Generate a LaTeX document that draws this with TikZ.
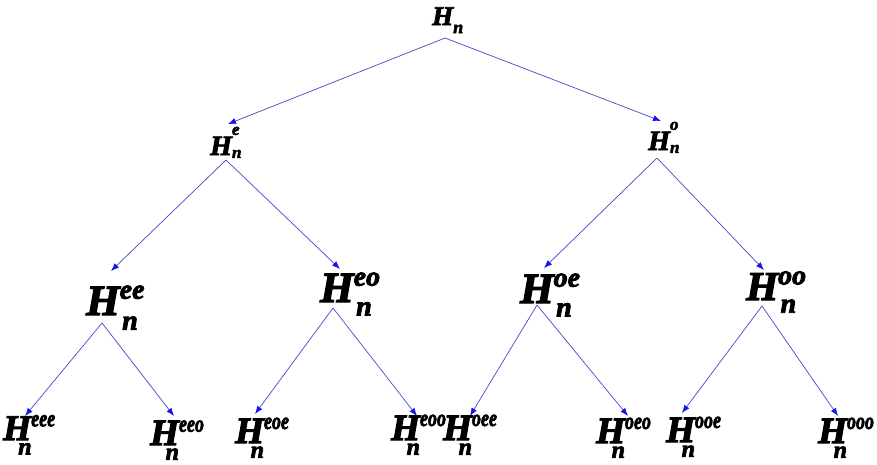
\documentclass[tikz,border=0pt]{standalone}
\usepackage{fontspec}
\usepackage{graphicx}
\setmainfont{Liberation Serif}[BoldItalicFeatures={FakeBold=3}]
\usetikzlibrary{arrows.meta}
\definecolor{edgeblue}{RGB}{72,72,200}
\definecolor{tipblue}{RGB}{20,20,235}
\newcommand{\supx}{1}
% #1 H size, #2 script size, #3 superscript, #4 raise (em of H), #5 lower (em of H), #6 kern of n (em of H)
\newcommand{\HLab}[6]{%
  \fontsize{#1pt}{#1pt}\selectfont H%
  \fontsize{#2pt}{#2pt}\selectfont
  \rlap{\raisebox{#4\dimexpr#1pt\relax}{\scalebox{\supx}[1]{#3}}}%
  \kern#6\dimexpr#1pt\relax\raisebox{-#5\dimexpr#1pt\relax}{n}}
\tikzset{
  lab/.style={inner sep=0pt, anchor=base west, font=\bfseries\itshape},
  edge/.style={draw=edgeblue, line width=0.7pt,
    -{Latex[length=8pt,width=6pt,fill=tipblue,color=tipblue]}}
}
\begin{document}
\begin{tikzpicture}[x=1pt,y=-1pt]
\useasboundingbox[fill=white] (0,0) rectangle (877,464);
% labels
\node[lab] (n)   at (432,25)  {\HLab{27}{18}{}{0}{0.3}{0}};
\node[lab] (e)   at (210,155) {\HLab{28}{17}{e}{0.72}{0.1}{0}};
\node[lab] (o)   at (648,150) {\HLab{28}{17}{o}{0.72}{0.1}{0}};
\node[lab] (ee)  at (86,315)  {\HLab{43}{28}{ee}{0.38}{0.34}{0.06}};
\node[lab] (eo)  at (320,302) {\HLab{43}{28}{eo}{0.38}{0.31}{0.06}};
\node[lab] (oe)  at (520,303) {\HLab{43}{28}{oe}{0.38}{0.31}{0.06}};
\node[lab] (oo)  at (746,300) {\HLab{41}{28}{oo}{0.38}{0.31}{0.06}};
\node[lab] (eee) at (3,440)   {\def\supx{0.75}\HLab{36}{24}{eee}{0.38}{0.40}{-0.36}};
\node[lab] (eeo) at (150,445) {\def\supx{0.75}\HLab{37}{24}{eeo}{0.36}{0.40}{-0.36}};
\node[lab] (eoe) at (235,443) {\def\supx{0.75}\HLab{37}{24}{eoe}{0.38}{0.40}{-0.36}};
\node[lab] (eoo) at (391,440) {\def\supx{0.75}\HLab{37}{24}{eoo}{0.38}{0.40}{-0.36}};
\node[lab] (oee) at (443,440) {\def\supx{0.75}\HLab{37}{24}{oee}{0.38}{0.40}{-0.36}};
\node[lab] (oeo) at (596,443) {\def\supx{0.75}\HLab{37}{24}{oeo}{0.38}{0.40}{-0.36}};
\node[lab] (ooe) at (666,442) {\def\supx{0.75}\HLab{37}{24}{ooe}{0.38}{0.40}{-0.36}};
\node[lab] (ooo) at (818,443) {\def\supx{0.75}\HLab{37}{24}{ooo}{0.38}{0.40}{-0.36}};
% connector ends
\coordinate (n-s)  at (445,38);
\coordinate (e-s)  at (226,160);
\coordinate (o-s)  at (657,158);
\coordinate (ee-s) at (102,323);
\coordinate (eo-s) at (333,308);
\coordinate (oe-s) at (537,305);
\coordinate (oo-s) at (762,306);
\coordinate (e-t)  at (228,124);
\coordinate (o-t)  at (661,121);
\coordinate (ee-t) at (111,271);
\coordinate (eo-t) at (340,269);
\coordinate (oe-t) at (544,268);
\coordinate (oo-t) at (764,270);
\coordinate (eee-t) at (25,416);
\coordinate (eeo-t) at (174,416);
\coordinate (eoe-t) at (255,414);
\coordinate (eoo-t) at (417,416);
\coordinate (oee-t) at (470,416);
\coordinate (oeo-t) at (628,416);
\coordinate (ooe-t) at (682,413);
\coordinate (ooo-t) at (838,416);
% connectors
\draw[edge] (n-s) -- (e-t);
\draw[edge] (n-s) -- (o-t);
\draw[edge] (e-s) -- (ee-t);
\draw[edge] (e-s) -- (eo-t);
\draw[edge] (o-s) -- (oe-t);
\draw[edge] (o-s) -- (oo-t);
\draw[edge] (ee-s) -- (eee-t);
\draw[edge] (ee-s) -- (eeo-t);
\draw[edge] (eo-s) -- (eoe-t);
\draw[edge] (eo-s) -- (eoo-t);
\draw[edge] (oe-s) -- (oee-t);
\draw[edge] (oe-s) -- (oeo-t);
\draw[edge] (oo-s) -- (ooe-t);
\draw[edge] (oo-s) -- (ooo-t);
\end{tikzpicture}
\end{document}
